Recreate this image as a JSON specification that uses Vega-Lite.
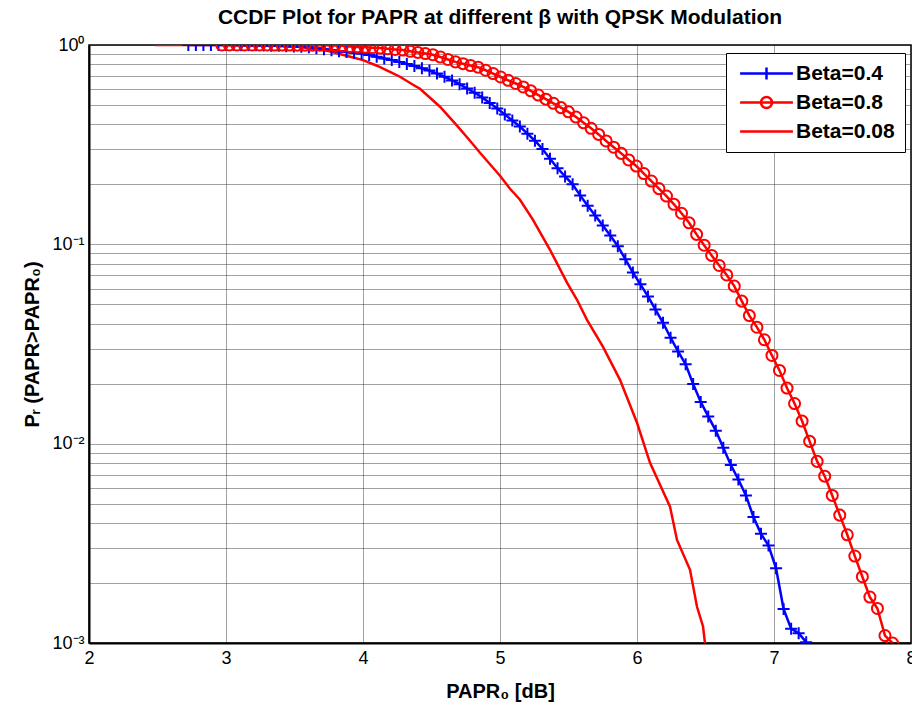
{
  "$schema": "https://vega.github.io/schema/vega-lite/v6.json",
  "width": 822,
  "height": 598,
  "autosize": {"type": "none"},
  "padding": {"left": 89, "right": 1, "top": 45, "bottom": 72},
  "background": "white",
  "config": {"font": "Liberation Sans", "view": {"stroke": "#000", "strokeWidth": 1.5}},
  "title": {"text": "CCDF Plot for PAPR at different β with QPSK Modulation", "fontSize": 21, "fontWeight": "bold", "color": "#000", "anchor": "middle", "offset": 8},
  "data": {"values": [
    {"s":"Beta=0.4","x":2.725,"y":1},{"s":"Beta=0.4","x":2.78,"y":1},{"s":"Beta=0.4","x":2.835,"y":1},{"s":"Beta=0.4","x":2.89,"y":1},{"s":"Beta=0.4","x":2.945,"y":1},{"s":"Beta=0.4","x":3.0,"y":1},{"s":"Beta=0.4","x":3.055,"y":1},{"s":"Beta=0.4","x":3.11,"y":0.998},{"s":"Beta=0.4","x":3.165,"y":0.997},{"s":"Beta=0.4","x":3.22,"y":0.996},{"s":"Beta=0.4","x":3.275,"y":0.994},{"s":"Beta=0.4","x":3.33,"y":0.992},{"s":"Beta=0.4","x":3.385,"y":0.99},{"s":"Beta=0.4","x":3.44,"y":0.987},{"s":"Beta=0.4","x":3.495,"y":0.984},{"s":"Beta=0.4","x":3.55,"y":0.98},{"s":"Beta=0.4","x":3.605,"y":0.973},{"s":"Beta=0.4","x":3.66,"y":0.964},{"s":"Beta=0.4","x":3.715,"y":0.952},{"s":"Beta=0.4","x":3.77,"y":0.94},{"s":"Beta=0.4","x":3.825,"y":0.93},{"s":"Beta=0.4","x":3.88,"y":0.922},{"s":"Beta=0.4","x":3.935,"y":0.914},{"s":"Beta=0.4","x":3.99,"y":0.906},{"s":"Beta=0.4","x":4.045,"y":0.89},{"s":"Beta=0.4","x":4.1,"y":0.873},{"s":"Beta=0.4","x":4.155,"y":0.856},{"s":"Beta=0.4","x":4.21,"y":0.84},{"s":"Beta=0.4","x":4.265,"y":0.822},{"s":"Beta=0.4","x":4.32,"y":0.804},{"s":"Beta=0.4","x":4.375,"y":0.784},{"s":"Beta=0.4","x":4.43,"y":0.764},{"s":"Beta=0.4","x":4.485,"y":0.744},{"s":"Beta=0.4","x":4.54,"y":0.719},{"s":"Beta=0.4","x":4.595,"y":0.692},{"s":"Beta=0.4","x":4.65,"y":0.664},{"s":"Beta=0.4","x":4.705,"y":0.636},{"s":"Beta=0.4","x":4.76,"y":0.605},{"s":"Beta=0.4","x":4.815,"y":0.576},{"s":"Beta=0.4","x":4.87,"y":0.546},{"s":"Beta=0.4","x":4.925,"y":0.512},{"s":"Beta=0.4","x":4.98,"y":0.48},{"s":"Beta=0.4","x":5.035,"y":0.448},{"s":"Beta=0.4","x":5.09,"y":0.418},{"s":"Beta=0.4","x":5.145,"y":0.39},{"s":"Beta=0.4","x":5.2,"y":0.359},{"s":"Beta=0.4","x":5.255,"y":0.331},{"s":"Beta=0.4","x":5.31,"y":0.301},{"s":"Beta=0.4","x":5.365,"y":0.269},{"s":"Beta=0.4","x":5.42,"y":0.241},{"s":"Beta=0.4","x":5.475,"y":0.219},{"s":"Beta=0.4","x":5.53,"y":0.2},{"s":"Beta=0.4","x":5.585,"y":0.176},{"s":"Beta=0.4","x":5.64,"y":0.156},{"s":"Beta=0.4","x":5.695,"y":0.1395},{"s":"Beta=0.4","x":5.75,"y":0.1244},{"s":"Beta=0.4","x":5.805,"y":0.1106},{"s":"Beta=0.4","x":5.86,"y":0.0979},{"s":"Beta=0.4","x":5.915,"y":0.0842},{"s":"Beta=0.4","x":5.97,"y":0.0722},{"s":"Beta=0.4","x":6.025,"y":0.063},{"s":"Beta=0.4","x":6.08,"y":0.0548},{"s":"Beta=0.4","x":6.135,"y":0.0471},{"s":"Beta=0.4","x":6.19,"y":0.0404},{"s":"Beta=0.4","x":6.245,"y":0.034},{"s":"Beta=0.4","x":6.3,"y":0.029},{"s":"Beta=0.4","x":6.355,"y":0.025},{"s":"Beta=0.4","x":6.41,"y":0.0199},{"s":"Beta=0.4","x":6.465,"y":0.0162},{"s":"Beta=0.4","x":6.52,"y":0.0137},{"s":"Beta=0.4","x":6.575,"y":0.01162},{"s":"Beta=0.4","x":6.63,"y":0.00954},{"s":"Beta=0.4","x":6.685,"y":0.00782},{"s":"Beta=0.4","x":6.74,"y":0.00661},{"s":"Beta=0.4","x":6.795,"y":0.0055},{"s":"Beta=0.4","x":6.85,"y":0.00429},{"s":"Beta=0.4","x":6.905,"y":0.00353},{"s":"Beta=0.4","x":6.96,"y":0.00308},{"s":"Beta=0.4","x":7.015,"y":0.00237},{"s":"Beta=0.4","x":7.07,"y":0.00148},{"s":"Beta=0.4","x":7.125,"y":0.00118},{"s":"Beta=0.4","x":7.18,"y":0.00112},{"s":"Beta=0.4","x":7.235,"y":0.00101},
    {"s":"Beta=0.8","x":2.97,"y":1},{"s":"Beta=0.8","x":3.025,"y":1},{"s":"Beta=0.8","x":3.08,"y":1},{"s":"Beta=0.8","x":3.135,"y":1},{"s":"Beta=0.8","x":3.19,"y":1},{"s":"Beta=0.8","x":3.245,"y":1},{"s":"Beta=0.8","x":3.3,"y":1},{"s":"Beta=0.8","x":3.355,"y":0.999},{"s":"Beta=0.8","x":3.41,"y":0.999},{"s":"Beta=0.8","x":3.465,"y":0.999},{"s":"Beta=0.8","x":3.52,"y":0.998},{"s":"Beta=0.8","x":3.575,"y":0.998},{"s":"Beta=0.8","x":3.63,"y":0.998},{"s":"Beta=0.8","x":3.685,"y":0.997},{"s":"Beta=0.8","x":3.74,"y":0.996},{"s":"Beta=0.8","x":3.795,"y":0.994},{"s":"Beta=0.8","x":3.85,"y":0.99},{"s":"Beta=0.8","x":3.905,"y":0.983},{"s":"Beta=0.8","x":3.96,"y":0.978},{"s":"Beta=0.8","x":4.015,"y":0.974},{"s":"Beta=0.8","x":4.07,"y":0.969},{"s":"Beta=0.8","x":4.125,"y":0.965},{"s":"Beta=0.8","x":4.18,"y":0.958},{"s":"Beta=0.8","x":4.235,"y":0.95},{"s":"Beta=0.8","x":4.29,"y":0.943},{"s":"Beta=0.8","x":4.345,"y":0.93},{"s":"Beta=0.8","x":4.4,"y":0.918},{"s":"Beta=0.8","x":4.455,"y":0.906},{"s":"Beta=0.8","x":4.51,"y":0.894},{"s":"Beta=0.8","x":4.565,"y":0.87},{"s":"Beta=0.8","x":4.62,"y":0.846},{"s":"Beta=0.8","x":4.675,"y":0.823},{"s":"Beta=0.8","x":4.73,"y":0.806},{"s":"Beta=0.8","x":4.785,"y":0.789},{"s":"Beta=0.8","x":4.84,"y":0.774},{"s":"Beta=0.8","x":4.895,"y":0.747},{"s":"Beta=0.8","x":4.95,"y":0.719},{"s":"Beta=0.8","x":5.005,"y":0.691},{"s":"Beta=0.8","x":5.06,"y":0.665},{"s":"Beta=0.8","x":5.115,"y":0.641},{"s":"Beta=0.8","x":5.17,"y":0.616},{"s":"Beta=0.8","x":5.225,"y":0.589},{"s":"Beta=0.8","x":5.28,"y":0.561},{"s":"Beta=0.8","x":5.335,"y":0.535},{"s":"Beta=0.8","x":5.39,"y":0.51},{"s":"Beta=0.8","x":5.445,"y":0.485},{"s":"Beta=0.8","x":5.5,"y":0.462},{"s":"Beta=0.8","x":5.555,"y":0.435},{"s":"Beta=0.8","x":5.61,"y":0.407},{"s":"Beta=0.8","x":5.665,"y":0.382},{"s":"Beta=0.8","x":5.72,"y":0.356},{"s":"Beta=0.8","x":5.775,"y":0.33},{"s":"Beta=0.8","x":5.83,"y":0.307},{"s":"Beta=0.8","x":5.885,"y":0.286},{"s":"Beta=0.8","x":5.94,"y":0.265},{"s":"Beta=0.8","x":5.995,"y":0.247},{"s":"Beta=0.8","x":6.05,"y":0.2265},{"s":"Beta=0.8","x":6.105,"y":0.2078},{"s":"Beta=0.8","x":6.16,"y":0.1903},{"s":"Beta=0.8","x":6.215,"y":0.1747},{"s":"Beta=0.8","x":6.27,"y":0.1587},{"s":"Beta=0.8","x":6.325,"y":0.1432},{"s":"Beta=0.8","x":6.38,"y":0.1282},{"s":"Beta=0.8","x":6.435,"y":0.1122},{"s":"Beta=0.8","x":6.49,"y":0.099},{"s":"Beta=0.8","x":6.545,"y":0.088},{"s":"Beta=0.8","x":6.6,"y":0.0783},{"s":"Beta=0.8","x":6.655,"y":0.0702},{"s":"Beta=0.8","x":6.71,"y":0.0617},{"s":"Beta=0.8","x":6.765,"y":0.0519},{"s":"Beta=0.8","x":6.82,"y":0.0439},{"s":"Beta=0.8","x":6.875,"y":0.0384},{"s":"Beta=0.8","x":6.93,"y":0.0332},{"s":"Beta=0.8","x":6.985,"y":0.0277},{"s":"Beta=0.8","x":7.04,"y":0.0233},{"s":"Beta=0.8","x":7.095,"y":0.019},{"s":"Beta=0.8","x":7.15,"y":0.0159},{"s":"Beta=0.8","x":7.205,"y":0.01298},{"s":"Beta=0.8","x":7.26,"y":0.01027},{"s":"Beta=0.8","x":7.315,"y":0.00815},{"s":"Beta=0.8","x":7.37,"y":0.00687},{"s":"Beta=0.8","x":7.425,"y":0.0055},{"s":"Beta=0.8","x":7.48,"y":0.00438},{"s":"Beta=0.8","x":7.535,"y":0.00349},{"s":"Beta=0.8","x":7.59,"y":0.00273},{"s":"Beta=0.8","x":7.645,"y":0.00215},{"s":"Beta=0.8","x":7.7,"y":0.0017},{"s":"Beta=0.8","x":7.755,"y":0.00149},{"s":"Beta=0.8","x":7.81,"y":0.00109},{"s":"Beta=0.8","x":7.865,"y":0.001},
    {"s":"Beta=0.08","x":2.48,"y":1},{"s":"Beta=0.08","x":3.0,"y":1},{"s":"Beta=0.08","x":3.45,"y":0.995},{"s":"Beta=0.08","x":3.6,"y":0.965},{"s":"Beta=0.08","x":3.74,"y":0.935},{"s":"Beta=0.08","x":3.9,"y":0.875},{"s":"Beta=0.08","x":4.0,"y":0.84},{"s":"Beta=0.08","x":4.102,"y":0.787},{"s":"Beta=0.08","x":4.197,"y":0.734},{"s":"Beta=0.08","x":4.27,"y":0.693},{"s":"Beta=0.08","x":4.365,"y":0.632},{"s":"Beta=0.08","x":4.416,"y":0.603},{"s":"Beta=0.08","x":4.489,"y":0.544},{"s":"Beta=0.08","x":4.562,"y":0.49},{"s":"Beta=0.08","x":4.686,"y":0.394},{"s":"Beta=0.08","x":4.781,"y":0.331},{"s":"Beta=0.08","x":4.854,"y":0.288},{"s":"Beta=0.08","x":5.0,"y":0.221},{"s":"Beta=0.08","x":5.073,"y":0.19},{"s":"Beta=0.08","x":5.146,"y":0.1674},{"s":"Beta=0.08","x":5.241,"y":0.1328},{"s":"Beta=0.08","x":5.365,"y":0.0939},{"s":"Beta=0.08","x":5.489,"y":0.0642},{"s":"Beta=0.08","x":5.562,"y":0.0527},{"s":"Beta=0.08","x":5.635,"y":0.0418},{"s":"Beta=0.08","x":5.752,"y":0.0306},{"s":"Beta=0.08","x":5.876,"y":0.0209},{"s":"Beta=0.08","x":6.0,"y":0.01273},{"s":"Beta=0.08","x":6.095,"y":0.00802},{"s":"Beta=0.08","x":6.168,"y":0.00622},{"s":"Beta=0.08","x":6.241,"y":0.00483},{"s":"Beta=0.08","x":6.292,"y":0.00329},{"s":"Beta=0.08","x":6.387,"y":0.00233},{"s":"Beta=0.08","x":6.438,"y":0.00152},{"s":"Beta=0.08","x":6.482,"y":0.00121},{"s":"Beta=0.08","x":6.496,"y":0.001}
  ]},
  "encoding": {
    "x": {"field": "x", "type": "quantitative",
      "scale": {"domain": [2, 8], "nice": false, "zero": false},
      "axis": {"values": [2,3,4,5,6,7,8], "format": "d", "title": "PAPR₀ [dB]", "titleFontSize": 20, "titleFontWeight": "bold", "titleColor": "#000", "titlePadding": 14,
        "labelFontSize": 18, "labelColor": "#000", "labelPadding": 6, "labelFlush": false, "ticks": false,
        "domainColor": "#000", "domainWidth": 2,
        "grid": true, "gridColor": "#222", "gridOpacity": 0.85, "gridDash": [1, 1], "gridWidth": 1}},
    "y": {"field": "y", "type": "quantitative",
      "scale": {"type": "log", "domain": [0.001, 1], "nice": false},
      "axis": {"values": [0.001,0.002,0.003,0.004,0.005,0.006,0.007,0.008,0.009,0.01,0.02,0.03,0.04,0.05,0.06,0.07,0.08,0.09,0.1,0.2,0.3,0.4,0.5,0.6,0.7,0.8,0.9,1],
        "labelExpr": "datum.value > 0.99 ? '10⁰' : (abs(datum.value - 0.1) < 1e-9 ? '10⁻¹' : (abs(datum.value - 0.01) < 1e-10 ? '10⁻²' : (abs(datum.value - 0.001) < 1e-11 ? '10⁻³' : '')))",
        "labelOverlap": false, "labelFontSize": 18, "labelColor": "#000", "labelPadding": 5, "ticks": false,
        "title": "Pᵣ (PAPR>PAPR₀)", "titleFontSize": 20, "titleFontWeight": "bold", "titleColor": "#000", "titlePadding": 9,
        "domainColor": "#000", "domainWidth": 2,
        "grid": true, "gridColor": "#222", "gridOpacity": 0.85, "gridDash": [1, 1], "gridWidth": 1}}
  },
  "layer": [
    {"mark": {"type": "line", "strokeWidth": 2.5, "clip": true},
     "encoding": {
       "color": {"field": "s", "type": "nominal",
         "scale": {"domain": ["Beta=0.4", "Beta=0.8", "Beta=0.08"], "range": ["#0000ff", "#ff0000", "#ff0000"]},
         "legend": {"title": null, "orient": "none", "legendX": 637, "legendY": 8,
           "symbolSize": 144, "symbolStrokeWidth": 2.5, "symbolOffset": 20, "labelOffset": 19,
           "labelFontSize": 21, "labelFontWeight": "bold", "labelColor": "#000",
           "padding": 10, "rowPadding": 6, "strokeColor": "#000", "fillColor": "#fff", "cornerRadius": 0,
           "encode": {"symbols": {"update": {
             "shape": {"signal": "datum.value === 'Beta=0.4' ? 'M-4.4,0H4.4M0,-1V1' : (datum.value === 'Beta=0.8' ? 'M-4.4,0H4.4M0.92,0A0.92,0.92,0,1,1,-0.92,0A0.92,0.92,0,1,1,0.92,0' : 'M-4.4,0H4.4')"},
             "fill": {"value": "transparent"},
             "strokeWidth": {"value": 2.5}}}}}}
     }},
    {"transform": [{"filter": "datum.s !== 'Beta=0.08'"}],
     "mark": {"type": "point", "filled": false, "size": 144, "strokeWidth": 2, "opacity": 1, "clip": true},
     "encoding": {
       "shape": {"field": "s", "type": "nominal",
         "scale": {"domain": ["Beta=0.4", "Beta=0.8"], "range": ["M-1,0H1M0,-1V1", "M0.92,0A0.92,0.92,0,1,1,-0.92,0A0.92,0.92,0,1,1,0.92,0"]},
         "legend": null},
       "stroke": {"field": "s", "type": "nominal",
         "scale": {"domain": ["Beta=0.4", "Beta=0.8"], "range": ["#0000ff", "#ff0000"]},
         "legend": null}
     }}
  ]
}
